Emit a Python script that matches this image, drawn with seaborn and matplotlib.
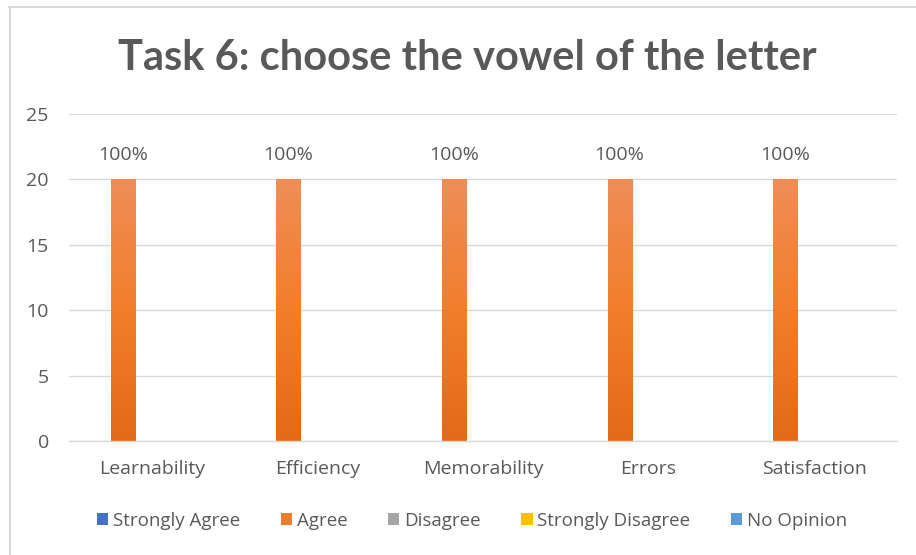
import numpy as np
import pandas as pd
import matplotlib
matplotlib.use("Agg")
import matplotlib.pyplot as plt
import seaborn as sns
from matplotlib.colors import LinearSegmentedColormap
from matplotlib.lines import Line2D
from matplotlib.patches import Patch

categories = ["Learnability", "Efficiency", "Memorability", "Errors", "Satisfaction"]
series = ["Strongly Agree", "Agree", "Disagree", "Strongly Disagree", "No Opinion"]
strongly_agree = [0, 0, 0, 0, 0]
agree = [20, 20, 20, 20, 20]
disagree = [0, 0, 0, 0, 0]
strongly_disagree = [0, 0, 0, 0, 0]
no_opinion = [0, 0, 0, 0, 0]
yticks = [0, 5, 10, 15, 20, 25]
title = "Task 6: choose the vowel of the letter"

colors = ["#4472C4", "#ED7D31", "#A5A5A5", "#FFC000", "#5B9BD5"]
text_color = "#595959"
grid_color = "#D9D9D9"

values = [strongly_agree, agree, disagree, strongly_disagree, no_opinion]
rows = []
for s, vals in zip(series, values):
    for c, v in zip(categories, vals):
        rows.append({"category": c, "series": s, "value": v})
df = pd.DataFrame(rows)
totals = df.groupby("category")["value"].sum()

sns.set_theme(style="white")
plt.rcParams["font.family"] = ["Open Sans", "DejaVu Sans"]

fig = plt.figure(figsize=(9.16, 5.55), dpi=100)
W, H = 916, 555
ax = fig.add_axes([69 / W, (H - 441) / H, (897 - 69) / W, (441 - 114) / H])

sns.barplot(data=df, x="category", y="value", hue="series", order=categories,
            hue_order=series, palette=colors, width=0.876, gap=0.17,
            ax=ax, legend=False, saturation=1, linewidth=0, errorbar=None)

# gradient fill + labels for non-zero bars
cmap = LinearSegmentedColormap.from_list("g", ["#E36A16", "#F27E2A", "#EF8D58"])
grad = np.linspace(0, 1, 256).reshape(-1, 1)
for container, s in zip(ax.containers, series):
    for bar, c in zip(container, categories):
        h = bar.get_height()
        if h <= 0:
            continue
        x0 = bar.get_x()
        w = bar.get_width()
        im = ax.imshow(grad, cmap=cmap, origin="lower", aspect="auto",
                       extent=[x0, x0 + w, 0, h], zorder=bar.get_zorder() + 0.1)
        im.set_clip_path(bar)
        pct = h / totals[c] * 100
        ax.text(x0 + w / 2, h + 1.9, f"{pct:.0f}%", ha="center", va="center",
                fontsize=14, color=text_color)

ax.set_xlim(-0.5, len(categories) - 0.5)
ax.set_ylim(0, 25)
ax.set_yticks(yticks)
ax.yaxis.grid(True, color=grid_color, linewidth=1)
ax.set_axisbelow(True)
for sp in ["top", "right", "left"]:
    ax.spines[sp].set_visible(False)
ax.spines["bottom"].set_color(grid_color)
ax.spines["bottom"].set_linewidth(1)
ax.tick_params(axis="both", length=0, colors=text_color, labelsize=14)
ax.tick_params(axis="x", pad=14)
ax.tick_params(axis="y", pad=14.5)
ax.set_xlabel("")
ax.set_ylabel("")

fig.text(467 / W, 1 - 58 / H, title, ha="center", va="center",
         fontsize=30, fontweight="bold", color=text_color, family=["Lato", "DejaVu Sans"])

handles = [Patch(facecolor=col, edgecolor="none") for col in colors]
leg = fig.legend(handles, series, loc="center", bbox_to_anchor=(472 / W, 1 - 521 / H),
                 ncol=5, frameon=False, fontsize=13.5, handlelength=0.6,
                 handleheight=0.6, handletextpad=0.25, columnspacing=2.17)
for t in leg.get_texts():
    t.set_color(text_color)

# chart border (top and left visible)
fig.add_artist(Line2D([9 / W, 1], [1 - 7 / H, 1 - 7 / H], color=grid_color, lw=1.5,
                      transform=fig.transFigure))
fig.add_artist(Line2D([10 / W, 10 / W], [0, 1 - 7 / H], color=grid_color, lw=1.5,
                      transform=fig.transFigure))

fig.savefig("out.png", dpi=100)
